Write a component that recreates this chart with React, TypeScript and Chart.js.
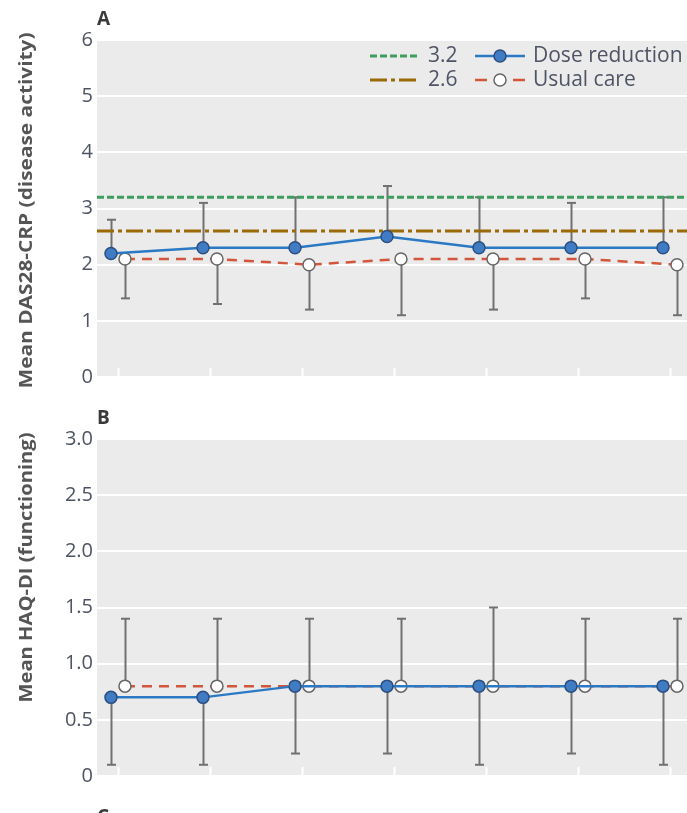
import React, { useEffect, useRef } from "react";
import { Chart, registerables } from "chart.js";

Chart.register(...registerables);

// ---- data ----
const visitMonths = [0, 3, 6, 9, 12, 15, 18];
const visitIndex = visitMonths.map((_, i) => i);

const dasDoseReduction = [2.2, 2.3, 2.3, 2.5, 2.3, 2.3, 2.3];
const dasDoseReductionUpper = [2.8, 3.1, 3.2, 3.4, 3.2, 3.1, 3.2];
const dasUsualCare = [2.1, 2.1, 2.0, 2.1, 2.1, 2.1, 2.0];
const dasUsualCareLower = [1.4, 1.3, 1.2, 1.1, 1.2, 1.4, 1.1];
const dasThresholdHigh = 3.2;
const dasThresholdLow = 2.6;
const dasTicks = [0, 1, 2, 3, 4, 5, 6];

const haqDoseReduction = [0.7, 0.7, 0.8, 0.8, 0.8, 0.8, 0.8];
const haqDoseReductionLower = [0.1, 0.1, 0.2, 0.2, 0.1, 0.2, 0.1];
const haqUsualCare = [0.8, 0.8, 0.8, 0.8, 0.8, 0.8, 0.8];
const haqUsualCareUpper = [1.4, 1.4, 1.4, 1.4, 1.5, 1.4, 1.4];
const haqTicks = [0, 0.5, 1.0, 1.5, 2.0, 2.5, 3.0];

const panelLetters = ["A", "B", "C"];
const yTitles = ["Mean DAS28-CRP (disease activity)", "Mean HAQ-DI (functioning)"];
const seriesNames = ["Dose reduction", "Usual care"];

// ---- style ----
const X_MIN = -0.228;
const X_MAX = 6.185;
const SHIFT = 0.076;
const FONT = "'Open Sans', 'DejaVu Sans', sans-serif";
const BG = "#ebebeb";
const TICK_COLOR = "#4e5464";
const TITLE_COLOR = "#555555";
const BLUE = "#2b78c4";
const RED = "#d2553c";
const GREEN = "#3f9e5f";
const BROWN = "#9a6b07";
const ERR = "#707070";

const sketchPlugin = {
  id: "sketch",
  beforeDraw(chart: any) {
    const { ctx, chartArea } = chart;
    ctx.save();
    ctx.fillStyle = BG;
    ctx.fillRect(chartArea.left, chartArea.top, chartArea.right - chartArea.left, chartArea.bottom - chartArea.top);
    ctx.restore();
  },
  beforeDatasetsDraw(chart: any) {
    const { ctx, chartArea } = chart;
    const xs = chart.scales.x;
    const ys = chart.scales.y;
    ctx.save();
    ctx.strokeStyle = "#ffffff";
    ctx.lineWidth = 2;
    visitIndex.forEach((v) => {
      const px = Math.round(xs.getPixelForValue(v)) + 0.5;
      ctx.beginPath();
      ctx.moveTo(px, chartArea.bottom);
      ctx.lineTo(px, chartArea.bottom - 9);
      ctx.stroke();
    });
    chart.data.datasets.forEach((ds: any, di: number) => {
      if (!ds.errorTo) return;
      const meta = chart.getDatasetMeta(di);
      ds.errorTo.forEach((e: number, i: number) => {
        const pt = meta.data[i];
        if (!pt) return;
        const x = Math.round(pt.x) + 0.5;
        const y2 = ys.getPixelForValue(e);
        ctx.strokeStyle = ERR;
        ctx.lineWidth = 2;
        ctx.beginPath();
        ctx.moveTo(x, pt.y);
        ctx.lineTo(x, y2);
        ctx.stroke();
        ctx.beginPath();
        ctx.moveTo(x - 4.5, y2);
        ctx.lineTo(x + 4.5, y2);
        ctx.stroke();
      });
    });
    ctx.restore();
  },
  afterDraw(chart: any, _args: any, opts: any) {
    const { ctx, chartArea } = chart;
    ctx.save();
    ctx.fillStyle = "#3a3a3a";
    ctx.font = `bold 19px ${FONT}`;
    ctx.textAlign = "left";
    ctx.textBaseline = "middle";
    ctx.fillText(opts.letter, chartArea.left, chartArea.top + opts.letterDy);
    if (opts.nextLetter) {
      ctx.textBaseline = "top";
      ctx.fillText(opts.nextLetter, chartArea.left, chart.height - 5);
    }
    // y title, stretched to the reference length
    ctx.save();
    ctx.translate(opts.titleX, (chartArea.top + chartArea.bottom) / 2 + opts.titleDy);
    ctx.rotate(-Math.PI / 2);
    ctx.font = `bold ${opts.titleSize}px ${FONT}`;
    ctx.fillStyle = TITLE_COLOR;
    ctx.textAlign = "center";
    ctx.textBaseline = "middle";
    const w = ctx.measureText(opts.title).width;
    const sx = opts.titleLen / w;
    ctx.scale(sx, 1);
    ctx.fillText(opts.title, 0, 0);
    ctx.restore();
    if (opts.legend) {
      const L = opts.legend;
      ctx.font = `21px ${FONT}`;
      ctx.textBaseline = "middle";
      ctx.textAlign = "left";
      L.rows.forEach((row: number[], ri: number) => {
        row.forEach((di: number, ci: number) => {
          const ds: any = chart.data.datasets[di];
          const x1 = chartArea.left + L.colX[ci];
          const x2 = x1 + L.sampleLen;
          const y = chartArea.top + L.rowY[ri];
          ctx.save();
          ctx.strokeStyle = ds.borderColor;
          ctx.lineWidth = ds.borderWidth;
          ctx.setLineDash(ds.legendDash || ds.borderDash || []);
          ctx.beginPath();
          ctx.moveTo(x1, y);
          ctx.lineTo(x2, y);
          ctx.stroke();
          ctx.setLineDash([]);
          if (ds.pointRadius > 0) {
            ctx.beginPath();
            ctx.arc((x1 + x2) / 2, y, ds.pointRadius, 0, Math.PI * 2);
            ctx.fillStyle = ds.pointBackgroundColor;
            ctx.fill();
            ctx.lineWidth = ds.pointBorderWidth;
            ctx.strokeStyle = ds.pointBorderColor;
            ctx.stroke();
          }
          ctx.fillStyle = TICK_COLOR;
          ctx.fillText(ds.label, x2 + 8, y);
          ctx.restore();
        });
      });
    }
    ctx.restore();
  },
};

function xy(values: number[], shift: number) {
  return values.map((v, i) => ({ x: visitIndex[i] + shift, y: v }));
}

function doseDataset(values: number[], err: number[]) {
  return {
    label: seriesNames[0],
    data: xy(values, -SHIFT),
    errorTo: err,
    borderColor: BLUE,
    borderWidth: 2.5,
    pointRadius: 6,
    pointBackgroundColor: "#3f7cc4",
    pointBorderColor: "#2c4f7f",
    pointBorderWidth: 1.5,
    showLine: true,
  };
}

function usualDataset(values: number[], err: number[]) {
  return {
    label: seriesNames[1],
    data: xy(values, SHIFT),
    errorTo: err,
    borderColor: RED,
    borderWidth: 2.5,
    borderDash: [10, 7],
    legendDash: [12, 26],
    pointRadius: 6,
    pointBackgroundColor: "#ffffff",
    pointBorderColor: "#666666",
    pointBorderWidth: 1.5,
    showLine: true,
  };
}

function thresholdDataset(value: number, color: string, dash: number[]) {
  return {
    label: String(value),
    data: [
      { x: X_MIN, y: value },
      { x: X_MAX, y: value },
    ],
    borderColor: color,
    borderWidth: 3,
    borderDash: dash,
    pointRadius: 0,
    showLine: true,
  };
}

function makeConfig(panel: number): any {
  const isA = panel === 0;
  const ticks = isA ? dasTicks : haqTicks;
  const datasets: any[] = isA
    ? [
        doseDataset(dasDoseReduction, dasDoseReductionUpper),
        usualDataset(dasUsualCare, dasUsualCareLower),
        thresholdDataset(dasThresholdHigh, GREEN, [7, 3]),
        thresholdDataset(dasThresholdLow, BROWN, [17, 4, 4, 4]),
      ]
    : [doseDataset(haqDoseReduction, haqDoseReductionLower), usualDataset(haqUsualCare, haqUsualCareUpper)];
  return {
    type: "scatter",
    data: { datasets },
    plugins: [sketchPlugin],
    options: {
      animation: false,
      responsive: false,
      events: [],
      layout: {
        autoPadding: false,
        padding: isA ? { top: 40, bottom: 23, left: 0, right: 0 } : { top: 39, bottom: 37, left: 0, right: 0 },
      },
      scales: {
        x: { type: "linear", display: false, min: X_MIN, max: X_MAX },
        y: {
          type: "linear",
          min: ticks[0],
          max: ticks[ticks.length - 1],
          afterFit: (s: any) => {
            s.width = 97;
          },
          afterBuildTicks: (s: any) => {
            s.ticks = ticks.map((v) => ({ value: v }));
          },
          border: { display: false },
          grid: { color: "#ffffff", lineWidth: 2, drawTicks: false },
          ticks: {
            padding: 4,
            color: TICK_COLOR,
            font: { family: FONT, size: 20 },
            callback: (v: number) => (isA || v === 0 ? String(v) : v.toFixed(1)),
          },
        },
      },
      plugins: {
        legend: { display: false },
        tooltip: { enabled: false },
        sketch: {
          letter: panelLetters[panel],
          letterDy: -20,
          nextLetter: isA ? null : panelLetters[2],
          title: yTitles[panel],
          titleX: 27,
          titleDy: isA ? 2 : -40,
          titleSize: 18,
          titleLen: isA ? 356 : 270,
          legend: isA ? { rows: [[2, 0], [3, 1]], colX: [273, 378], rowY: [16, 40], sampleLen: 50 } : null,
        },
      },
    },
  };
}

function Panel({ panel, top, height }: { panel: number; top: number; height: number }) {
  const ref = useRef<HTMLCanvasElement>(null);
  useEffect(() => {
    const chart = new Chart(ref.current as HTMLCanvasElement, makeConfig(panel));
    return () => chart.destroy();
  }, [panel]);
  return (
    <div style={{ position: "fixed", left: 0, top, width: 687, height }}>
      <canvas ref={ref} width={687} height={height} style={{ display: "block", width: 687, height }} />
    </div>
  );
}

export default function App() {
  return (
    <div style={{ background: "#ffffff" }}>
      <Panel panel={0} top={0} height={400} />
      <Panel panel={1} top={400} height={413} />
    </div>
  );
}
